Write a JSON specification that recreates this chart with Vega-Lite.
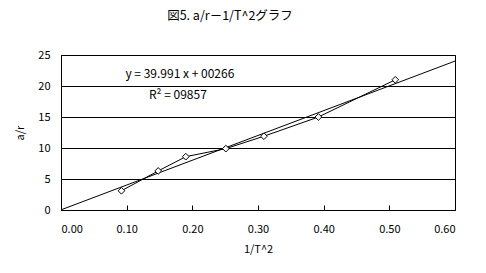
{
  "$schema": "https://vega.github.io/schema/vega-lite/v6.json",
  "width": 394,
  "height": 155,
  "autosize": {"type": "none"},
  "padding": {"left": 61, "top": 55, "right": 31, "bottom": 63},
  "background": "white",
  "config": {
    "font": "Noto Sans CJK JP",
    "view": {"stroke": "black", "strokeWidth": 1},
    "axis": {"labelFont": "Noto Sans CJK JP", "titleFont": "Noto Sans CJK JP", "labelFontSize": 11, "titleFontSize": 11, "labelColor": "black", "titleColor": "black", "titleFontWeight": "normal", "domainColor": "black", "tickColor": "black"}
  },
  "title": {"text": "図5. a/r－1/T^2グラフ", "fontSize": 12.5, "fontWeight": "normal", "font": "Noto Sans CJK JP", "anchor": "middle", "dx": -28, "offset": 27, "color": "black"},
  "datasets": {
    "obs": [
      {"x": 0.092, "y": 3.1},
      {"x": 0.148, "y": 6.3},
      {"x": 0.190, "y": 8.6},
      {"x": 0.251, "y": 9.9},
      {"x": 0.309, "y": 11.9},
      {"x": 0.392, "y": 15.0},
      {"x": 0.509, "y": 21.0}
    ],
    "trend": [
      {"x": 0.0, "y": 0.0266},
      {"x": 0.6, "y": 24.02}
    ],
    "labels": [
      {"x": 0.181, "y": 21.9, "t": "y = 39.991 x + 00266"},
      {"x": 0.178, "y": 18.5, "t": "R² = 09857"}
    ]
  },
  "encoding": {
    "x": {"field": "x", "type": "quantitative", "scale": {"domain": [0, 0.6], "nice": false},
      "axis": {"title": "1/T^2", "values": [0,0.1,0.2,0.3,0.4,0.5,0.6], "format": ".2f", "grid": false, "tickSize": -5, "labelPadding": 18, "titlePadding": 9, "labelOverlap": false, "domain": true}},
    "y": {"field": "y", "type": "quantitative", "scale": {"domain": [0, 25], "nice": false},
      "axis": {"title": "a/r", "values": [0,5,10,15,20,25], "grid": true, "gridColor": "black", "gridOpacity": 1, "ticks": false, "labelPadding": 11, "titlePadding": 12, "labelOverlap": false, "domain": true}}
  },
  "layer": [
    {
      "data": {"name": "trend"},
      "mark": {"type": "line", "color": "black", "strokeWidth": 1}
    },
    {
      "data": {"name": "obs"},
      "mark": {"type": "line", "color": "black", "strokeWidth": 1}
    },
    {
      "data": {"name": "obs"},
      "mark": {"type": "point", "shape": "diamond", "filled": true, "fill": "white", "stroke": "black", "strokeWidth": 1, "size": 45, "opacity": 1}
    },
    {
      "data": {"name": "labels"},
      "mark": {"type": "text", "fontSize": 12, "color": "black", "align": "center", "baseline": "middle", "font": "Noto Sans CJK JP"},
      "encoding": {
        "text": {"field": "t"}
      }
    }
  ]
}
